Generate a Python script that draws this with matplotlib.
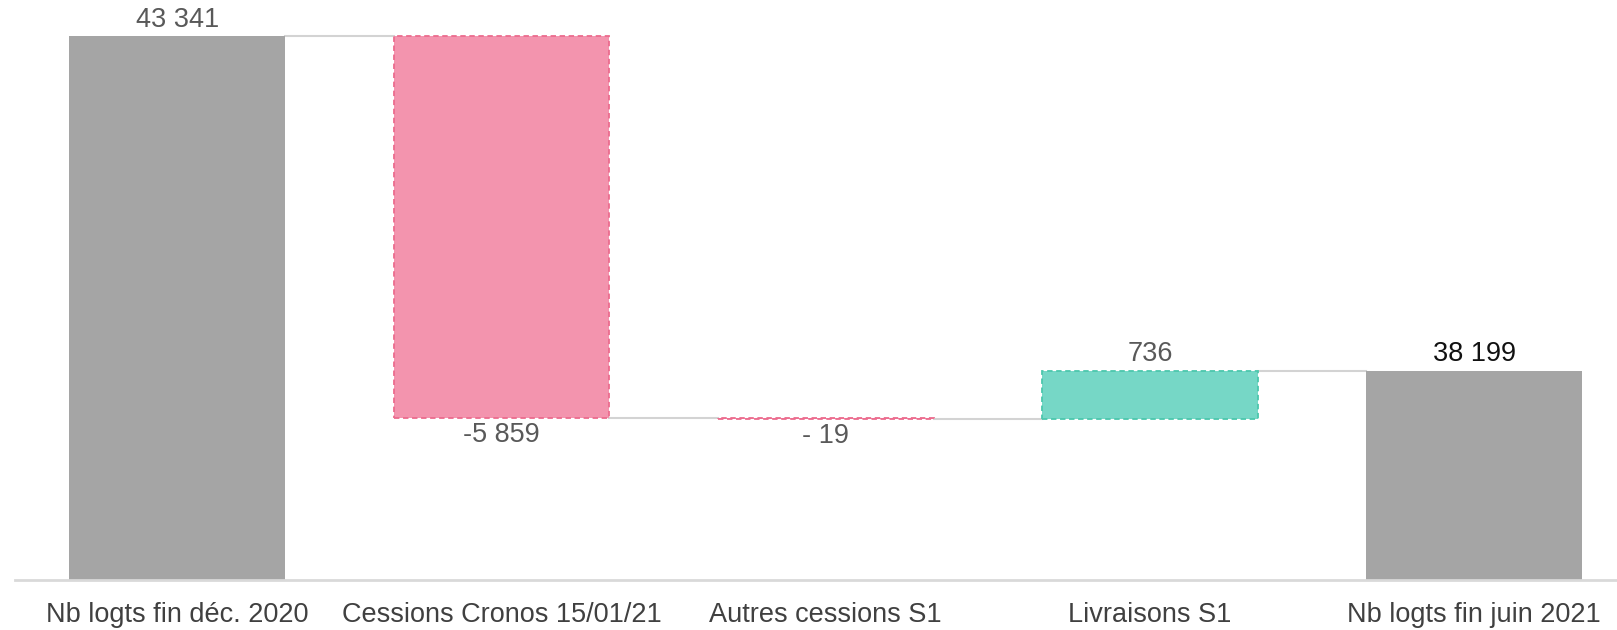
import matplotlib
matplotlib.use("Agg")
import matplotlib.pyplot as plt
import numpy as np

categories = ["Nb logts fin déc. 2020", "Cessions Cronos 15/01/21", "Autres cessions S1",
              "Livraisons S1", "Nb logts fin juin 2021"]
start_value = 43341
changes = [-5859, -19, 736]
end_value = 38199
value_labels = ["43 341", "-5 859", "- 19", "736", "38 199"]

plt.rcParams['font.family'] = ['Liberation Sans', 'DejaVu Sans']

fig = plt.figure(figsize=(16.17, 6.30), dpi=100)
ax = fig.add_axes([15/1617, 50/630, 1 - 15/1617, 580/630])

gray = "#A5A5A5"
pink_fill, pink_edge = "#F394AE", "#EC6C8E"
teal_fill, teal_edge = "#76D7C6", "#4CC7AD"
width = 0.665
x = np.arange(len(categories))

# totals
ax.bar(x[0], start_value - 35000, bottom=35000, width=width, color=gray, zorder=2)
ax.bar(x[4], end_value - 35000, bottom=35000, width=width, color=gray, zorder=2)

levels = [start_value]
cur = start_value
for i, c in enumerate(changes):
    new = cur + c
    lo, hi = min(cur, new), max(cur, new)
    if c < 0:
        fc, ec = pink_fill, pink_edge
    else:
        fc, ec = teal_fill, teal_edge
    ax.bar(x[i + 1], hi - lo, bottom=lo, width=width, color=fc, edgecolor=ec,
           linestyle=(0, (3, 2)), linewidth=1.3, zorder=2)
    cur = new
    levels.append(cur)
levels.append(end_value)

# connectors
for i in range(len(categories) - 1):
    ax.plot([x[i] + width / 2, x[i + 1] - width / 2], [levels[i], levels[i]],
            color="#D3D3D3", lw=1.5, zorder=1)

lab_col = "#595959"
fs = 19.5
ax.text(x[0], start_value + 50, value_labels[0], ha="center", va="bottom", fontsize=fs, color=lab_col)
ax.text(x[1], levels[1] - 60, value_labels[1], ha="center", va="top", fontsize=fs, color=lab_col)
ax.text(x[2], levels[2] - 60, value_labels[2], ha="center", va="top", fontsize=fs, color=lab_col)
ax.text(x[3], levels[3] + 60, value_labels[3], ha="center", va="bottom", fontsize=fs, color=lab_col)
ax.text(x[4], end_value + 60, value_labels[4], ha="center", va="bottom", fontsize=fs, color="#111111")

ax.set_xlim(-0.5, 4.44)
ax.set_ylim(35000, 43893)
ax.set_xticks(x)
ax.set_xticklabels(categories, fontsize=fs, color="#404040")
ax.tick_params(axis="x", length=0, pad=16)
ax.set_yticks([])
for s in ["top", "right", "left"]:
    ax.spines[s].set_visible(False)
ax.spines["bottom"].set_color("#D9D9D9")
ax.spines["bottom"].set_linewidth(2)

fig.savefig("out.png", dpi=100)
